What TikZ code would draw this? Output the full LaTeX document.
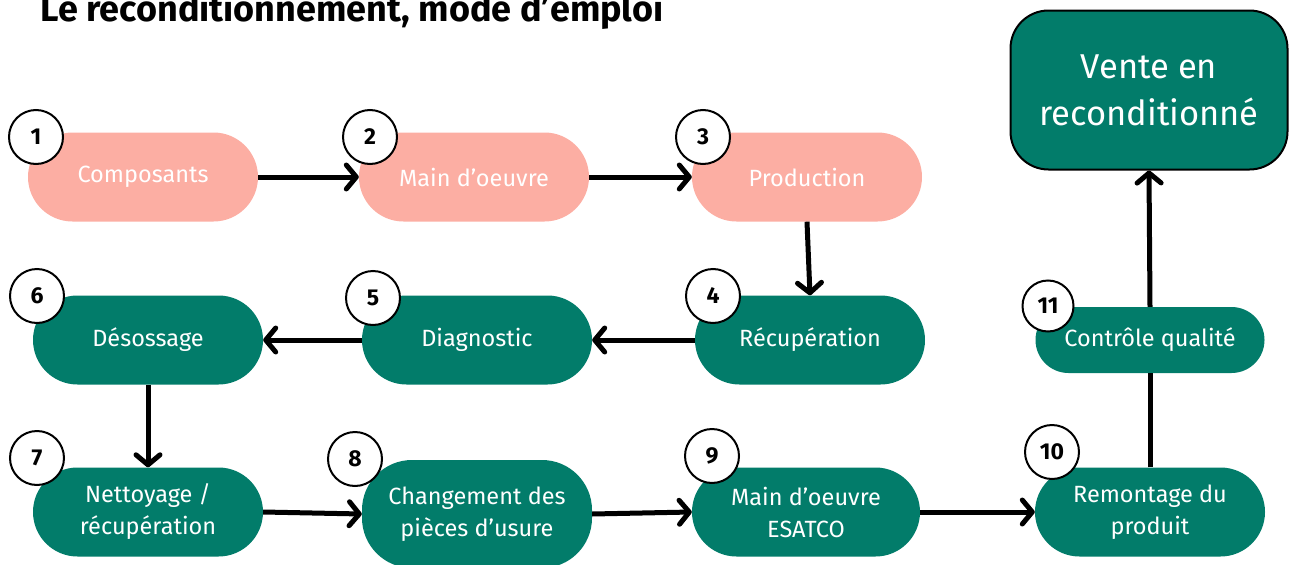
\documentclass[tikz,border=0pt]{standalone}
\usepackage{fontspec}
\setmainfont{Fira Sans}
\usetikzlibrary{arrows.meta}
\definecolor{pinkc}{HTML}{FCAEA3}
\definecolor{tealc}{HTML}{027C6A}
\begin{document}
\begin{tikzpicture}[x=1pt,y=-1pt,
  pill/.style={fill=#1, text=white, minimum width=230pt, minimum height=89pt,
    rounded corners=44.5pt, inner sep=0pt, align=center,
    font=\fontsize{23.5}{32}\selectfont},
  num/.style={circle, draw=black, line width=2pt, fill=white, minimum size=54pt,
    inner sep=0pt, font=\bfseries\fontsize{23}{26}\selectfont},
  arr/.style={line width=5pt, -{Straight Barb[length=10pt,width=24pt,round]}},
  link/.style={line width=5pt}]
\useasboundingbox (0,0) rectangle (1291,565);
\node[anchor=base west, font=\bfseries\fontsize{36}{40}\selectfont] (title) at (37,21) {Le reconditionnement, mode d’emploi};

\node[pill=pinkc] (n1) at (143,177) {Composants};
\node[pill=pinkc] (n2) at (474,177) {Main d’oeuvre};
\node[pill=pinkc] (n3) at (807,177) {Production};
\node[pill=tealc] (n4) at (810,340) {Récupération};
\node[pill=tealc] (n5) at (477,340) {Diagnostic};
\node[pill=tealc] (n6) at (148,340) {Désossage};
\node[pill=tealc] (n7) at (148,512) {Nettoyage /\\récupération};
\node[pill=tealc, minimum height=108pt, rounded corners=50pt] (n8) at (477,514) {Changement des\\pièces d’usure};
\node[pill=tealc, minimum width=228pt] (n9) at (806,512) {Main d’oeuvre\\ESATCO};
\node[pill=tealc] (n10) at (1150,512) {Remontage du\\produit};
\node[pill=tealc, minimum width=229pt, minimum height=66pt, rounded corners=33pt] (n11) at (1150,340) {Contrôle qualité};
\node[fill=tealc, draw=black, line width=2pt, text=white, minimum width=277pt, minimum height=159pt,
  rounded corners=38pt, align=center, font=\fontsize{34.5}{47}\selectfont] (vente) at (1149,90) {Vente en\\reconditionné};

\node[num] (c1) at (36,137) {1};
\node[num] (c2) at (370,137) {2};
\node[num] (c3) at (703,137) {3};
\node[num] (c4) at (713,296) {4};
\node[num] (c5) at (373,298) {5};
\node[num] (c6) at (37,296) {6};
\node[num] (c7) at (37,458) {7};
\node[num] (c8) at (355,459) {8};
\node[num] (c9) at (712,456) {9};
\node[num] (c10) at (1052,452) {10};
\node[num, minimum size=51pt] (c11) at (1048,306) {11};

\draw[arr] (n1.east) -- (n2.west);
\draw[arr] (n2.east) -- (n3.west);
\draw[arr] (n3.south) -- (n4.north);
\draw[arr] (n4.west) -- (n5.east);
\draw[arr] (n5.west) -- (n6.east);
\draw[arr] (n6.south) -- (n7.north);
\draw[arr] (n7.east) -- (n8.west);
\draw[arr] (n8.east) -- (n9.west);
\draw[arr] (n9.east) -- (n10.west);
\draw[link] (n10.north) -- (n11.south);
\draw[arr] (n11.north) -- (vente.south);
\end{tikzpicture}
\end{document}
